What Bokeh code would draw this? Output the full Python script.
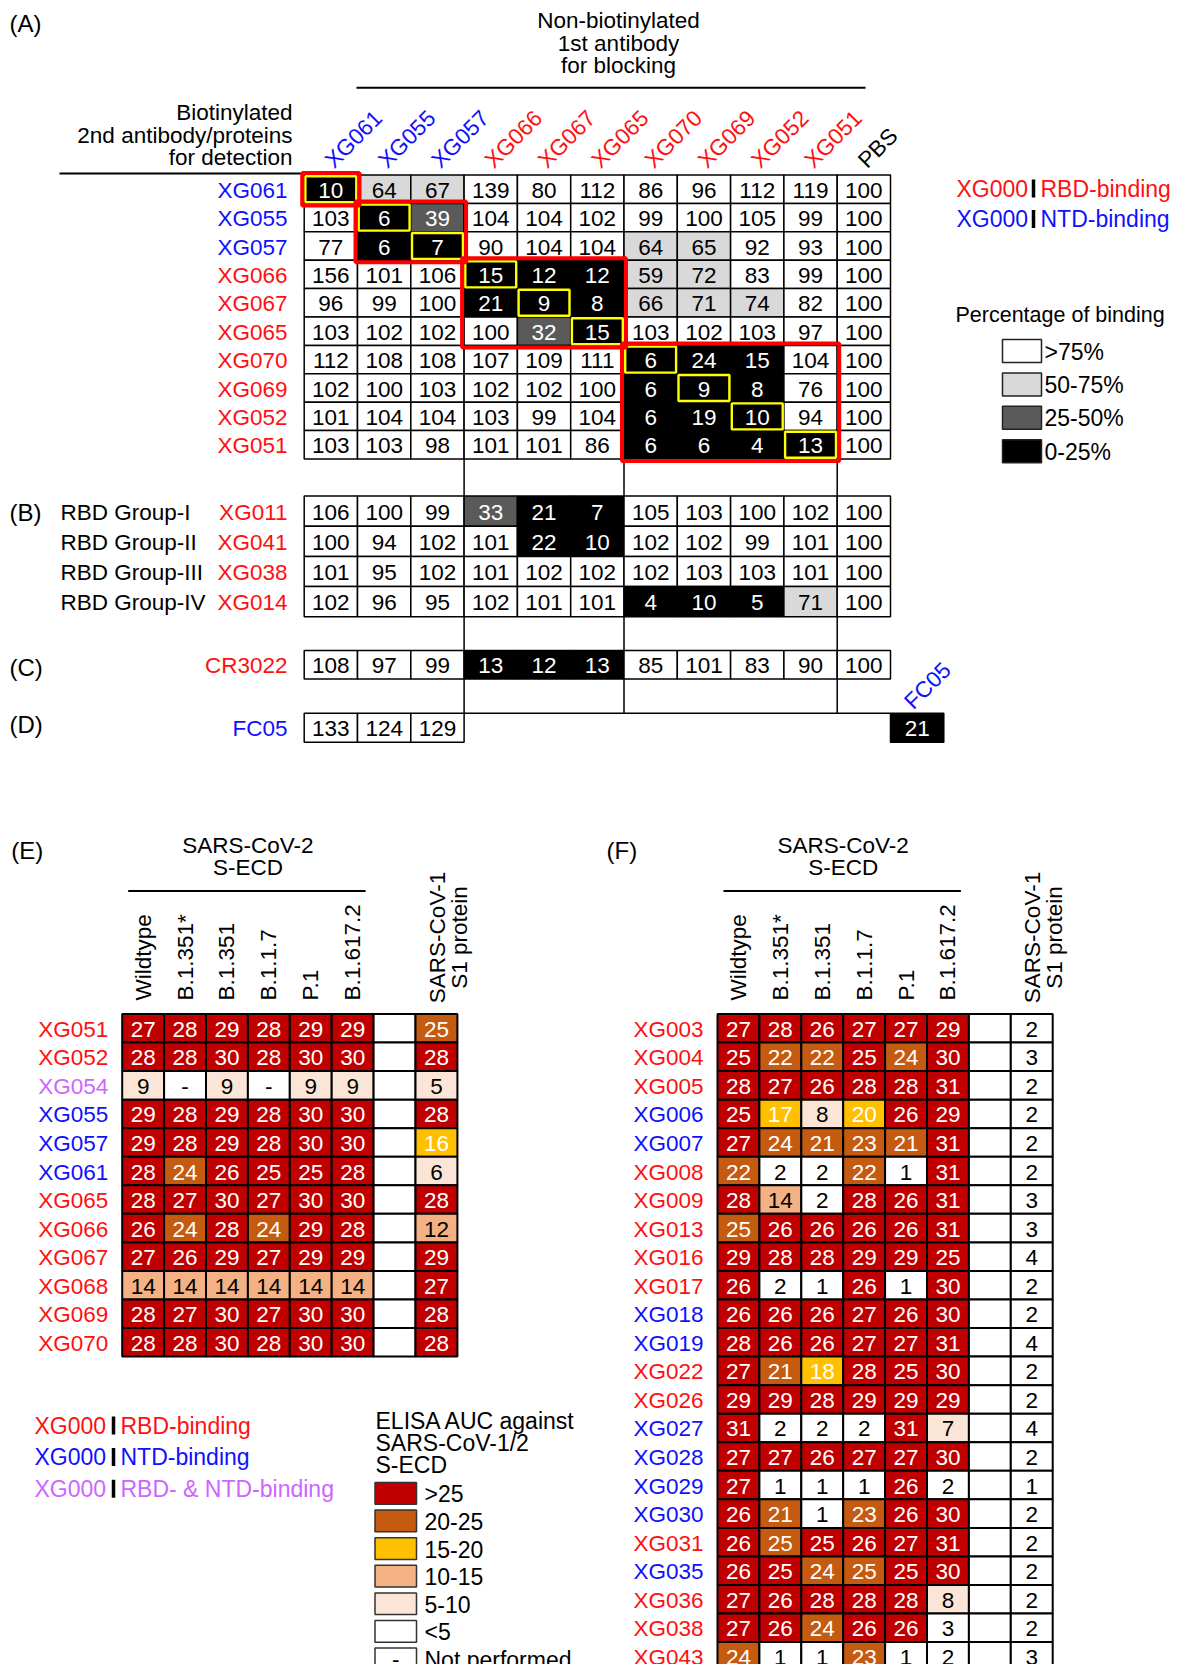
import math
from bokeh.plotting import figure
from bokeh.models import Range1d, ColumnDataSource
from bokeh.core.properties import value
from bokeh.embed import file_html
from bokeh.resources import INLINE

# ------------------------------------------------------------------ DATA
# Panel A: competition matrix (percentage of binding)
a_cols = ["XG061", "XG055", "XG057", "XG066", "XG067", "XG065", "XG070", "XG069", "XG052", "XG051", "PBS"]
a_col_kind = ["NTD", "NTD", "NTD", "RBD", "RBD", "RBD", "RBD", "RBD", "RBD", "RBD", "ctrl"]
a_rows = ["XG061", "XG055", "XG057", "XG066", "XG067", "XG065", "XG070", "XG069", "XG052", "XG051"]
a_row_kind = ["NTD", "NTD", "NTD", "RBD", "RBD", "RBD", "RBD", "RBD", "RBD", "RBD"]
a_values = [
    [10, 64, 67, 139, 80, 112, 86, 96, 112, 119, 100],
    [103, 6, 39, 104, 104, 102, 99, 100, 105, 99, 100],
    [77, 6, 7, 90, 104, 104, 64, 65, 92, 93, 100],
    [156, 101, 106, 15, 12, 12, 59, 72, 83, 99, 100],
    [96, 99, 100, 21, 9, 8, 66, 71, 74, 82, 100],
    [103, 102, 102, 100, 32, 15, 103, 102, 103, 97, 100],
    [112, 108, 108, 107, 109, 111, 6, 24, 15, 104, 100],
    [102, 100, 103, 102, 102, 100, 6, 9, 8, 76, 100],
    [101, 104, 104, 103, 99, 104, 6, 19, 10, 94, 100],
    [103, 103, 98, 101, 101, 86, 6, 6, 4, 13, 100],
]
a_cluster_sizes = [1, 2, 3, 4]          # epitope clusters along the diagonal

# Panel B: RBD group representatives
b_groups = ["RBD Group-I", "RBD Group-II", "RBD Group-III", "RBD Group-IV"]
b_rows = ["XG011", "XG041", "XG038", "XG014"]
b_values = [
    [106, 100, 99, 33, 21, 7, 105, 103, 100, 102, 100],
    [100, 94, 102, 101, 22, 10, 102, 102, 99, 101, 100],
    [101, 95, 102, 101, 102, 102, 102, 103, 103, 101, 100],
    [102, 96, 95, 102, 101, 101, 4, 10, 5, 71, 100],
]
# Panel C
c_row = "CR3022"
c_values = [108, 97, 99, 13, 12, 13, 85, 101, 83, 90, 100]
# Panel D
d_row = "FC05"
d_values = [133, 124, 129]
d_self_value = 21

pct_bins = [">75%", "50-75%", "25-50%", "0-25%"]

# Panel E / F: ELISA AUC
variants = ["Wildtype", "B.1.351*", "B.1.351", "B.1.1.7", "P.1", "B.1.617.2"]
s1_label = ["SARS-CoV-1", "S1 protein"]

e_rows = ["XG051", "XG052", "XG054", "XG055", "XG057", "XG061", "XG065", "XG066", "XG067", "XG068", "XG069", "XG070"]
e_row_kind = ["RBD", "RBD", "BOTH", "NTD", "NTD", "NTD", "RBD", "RBD", "RBD", "RBD", "RBD", "RBD"]
e_values = [
    [27, 28, 29, 28, 29, 29],
    [28, 28, 30, 28, 30, 30],
    [9, None, 9, None, 9, 9],
    [29, 28, 29, 28, 30, 30],
    [29, 28, 29, 28, 30, 30],
    [28, 24, 26, 25, 25, 28],
    [28, 27, 30, 27, 30, 30],
    [26, 24, 28, 24, 29, 28],
    [27, 26, 29, 27, 29, 29],
    [14, 14, 14, 14, 14, 14],
    [28, 27, 30, 27, 30, 30],
    [28, 28, 30, 28, 30, 30],
]
e_s1 = [25, 28, 5, 28, 16, 6, 28, 12, 29, 27, 28, 28]

f_rows = ["XG003", "XG004", "XG005", "XG006", "XG007", "XG008", "XG009", "XG013", "XG016", "XG017", "XG018", "XG019",
          "XG022", "XG026", "XG027", "XG028", "XG029", "XG030", "XG031", "XG035", "XG036", "XG038", "XG043"]
f_row_kind = ["RBD", "RBD", "RBD", "NTD", "NTD", "RBD", "RBD", "RBD", "RBD", "RBD", "NTD", "NTD",
              "RBD", "RBD", "NTD", "NTD", "NTD", "NTD", "RBD", "NTD", "RBD", "RBD", "RBD"]
f_values = [
    [27, 28, 26, 27, 27, 29],
    [25, 22, 22, 25, 24, 30],
    [28, 27, 26, 28, 28, 31],
    [25, 17, 8, 20, 26, 29],
    [27, 24, 21, 23, 21, 31],
    [22, 2, 2, 22, 1, 31],
    [28, 14, 2, 28, 26, 31],
    [25, 26, 26, 26, 26, 31],
    [29, 28, 28, 29, 29, 25],
    [26, 2, 1, 26, 1, 30],
    [26, 26, 26, 27, 26, 30],
    [28, 26, 26, 27, 27, 31],
    [27, 21, 18, 28, 25, 30],
    [29, 29, 28, 29, 29, 29],
    [31, 2, 2, 2, 31, 7],
    [27, 27, 26, 27, 27, 30],
    [27, 1, 1, 1, 26, 2],
    [26, 21, 1, 23, 26, 30],
    [26, 25, 25, 26, 27, 31],
    [26, 25, 24, 25, 25, 30],
    [27, 26, 28, 28, 28, 8],
    [27, 26, 24, 26, 26, 3],
    [24, 1, 1, 23, 1, 2],
]
f_s1 = [2, 3, 2, 2, 2, 2, 3, 3, 4, 2, 2, 4, 2, 2, 4, 2, 1, 2, 2, 2, 2, 2, 3]

# cells whose value rounds to 25 but lies in the 20-25 class (row, column index; 7 = S1)
e_below25 = [("XG051", 7)]
f_below25 = [("XG013", 0), ("XG031", 1), ("XG035", 3)]

auc_bins = [">25", "20-25", "15-20", "10-15", "5-10", "<5", "-"]
auc_bin_text = [">25", "20-25", "15-20", "10-15", "5-10", "<5", "Not performed"]

# ------------------------------------------------------------------ STYLE
FONT = value("Liberation Sans")
KIND_COLOR = {"RBD": "#ff1010", "NTD": "#1010ff", "BOTH": "#cc66ff", "ctrl": "black"}
PCT_FILL = {">75%": "white", "50-75%": "#d9d9d9", "25-50%": "#5a5a5a", "0-25%": "black"}
PCT_TEXT = {">75%": "black", "50-75%": "black", "25-50%": "white", "0-25%": "white"}
AUC_FILL = {">25": "#c00000", "20-25": "#c55a11", "15-20": "#ffc000", "10-15": "#f4b183",
            "5-10": "#fbe5d6", "<5": "white", "-": "white"}
AUC_TEXT = {">25": "white", "20-25": "white", "15-20": "white", "10-15": "black",
            "5-10": "black", "<5": "black", "-": "black"}

W, H = 1180, 1664
FS = "22.5px"
LFS = "23px"

AX, AW, AY, AH = 303.7, 53.3, 174.5, 28.4
BY, BH = 495.5, 30.2
CY, CH = 650.0, 28.5
DY, DH = 712.7, 29.0
EX, EW, EY, EH = 121.7, 41.9, 1013.5, 28.55
FX, FY = 717.0, 1013.5


def pct_bin(v):
    if v < 25:
        return "0-25%"
    if v < 50:
        return "25-50%"
    if v <= 75:
        return "50-75%"
    return ">75%"


def auc_bin(v):
    if v is None:
        return "-"
    if v < 5:
        return "<5"
    if v < 10:
        return "5-10"
    if v < 15:
        return "10-15"
    if v <= 20:
        return "15-20"
    if v < 25:
        return "20-25"
    return ">25"


p = figure(width=W, height=H, x_range=Range1d(0, W), y_range=Range1d(H, 0),
           output_backend="svg", toolbar_location=None, min_border=0,
           x_axis_location=None, y_axis_location=None)
p.grid.visible = False
p.outline_line_color = None
p.background_fill_color = "white"
p.border_fill_color = "white"


def txt(x, y, s, color="black", size=FS, align="left", baseline="middle", angle=0.0):
    p.text(x=[x], y=[y], text=[s], text_color=color, text_font=FONT, text_font_size=size,
           text_align=align, text_baseline=baseline, angle=angle)


def cells(x0, y0, w, h, items, fills, tcolors, lw):
    L, R, T, B, F, tx, ty, tt, tc = [], [], [], [], [], [], [], [], []
    for (i, j, label, b) in items:
        L.append(x0 + j * w); R.append(x0 + (j + 1) * w)
        T.append(y0 + i * h); B.append(y0 + (i + 1) * h)
        F.append(fills[b])
        if label is not None:
            tx.append(x0 + (j + 0.5) * w); ty.append(y0 + (i + 0.5) * h + 1)
            tt.append(label); tc.append(tcolors[b])
    p.quad(left=L, right=R, top=T, bottom=B, fill_color=F, line_color="black", line_width=lw)
    src = ColumnDataSource(dict(x=tx, y=ty, t=tt, c=tc))
    p.text(x="x", y="y", text="t", text_color="c", source=src, text_font=FONT,
           text_font_size=FS, text_align="center", text_baseline="middle")


# ------------------------------------------------------------------ PANEL A
txt(9, 23, "(A)", size="24px")
for k, s in enumerate(["Non-biotinylated", "1st antibody", "for blocking"]):
    txt(618, 20 + k * 22.5, s, align="center")
p.segment(x0=[356], y0=[87.3], x1=[865], y1=[87.3], line_color="black", line_width=2)
for k, s in enumerate(["Biotinylated", "2nd antibody/proteins", "for detection"]):
    txt(292, 112 + k * 22.5, s, align="right")
p.segment(x0=[59], y0=[173], x1=[AX], y1=[173], line_color="black", line_width=2)

for j, (c, kd) in enumerate(zip(a_cols, a_col_kind)):
    txt(AX + (j + 0.5) * AW - 2, AY - 11, c, color=KIND_COLOR[kd], baseline="alphabetic", angle=math.pi / 4)
for i, (r, kd) in enumerate(zip(a_rows, a_row_kind)):
    txt(287, AY + (i + 0.5) * AH + 1, r, color=KIND_COLOR[kd], align="right")

# connector lines between panels A-D
for k in [3, 6, 10]:
    p.segment(x0=[AX + k * AW], y0=[AY + len(a_rows) * AH], x1=[AX + k * AW], y1=[DY],
              line_color="black", line_width=1.5)
p.segment(x0=[AX + 3 * AW], y0=[DY], x1=[AX + 11 * AW], y1=[DY], line_color="black", line_width=1.5)

cells(AX, AY, AW, AH,
      [(i, j, str(v), pct_bin(v)) for i, row in enumerate(a_values) for j, v in enumerate(row)],
      PCT_FILL, PCT_TEXT, 1.5)

# cluster outlines (red) and self-competition cells (yellow)
start = 0
yl, yr, yt, yb, rl, rr, rt, rb = [], [], [], [], [], [], [], []
for n in a_cluster_sizes:
    rl.append(AX + start * AW - 2); rr.append(AX + (start + n) * AW + 2)
    rt.append(AY + start * AH - 2); rb.append(AY + (start + n) * AH + 2)
    start += n
for d in range(len(a_rows)):
    yl.append(AX + d * AW + 1.2); yr.append(AX + (d + 1) * AW - 1.2)
    yt.append(AY + d * AH + 1.2); yb.append(AY + (d + 1) * AH - 1.2)
p.quad(left=yl, right=yr, top=yt, bottom=yb, fill_color=None, line_color="#ffff00", line_width=2.4)
p.quad(left=rl, right=rr, top=rt, bottom=rb, fill_color=None, line_color="#ff0000", line_width=4)

# legend A
for k, (kd, s) in enumerate([("RBD", "RBD-binding"), ("NTD", "NTD-binding")]):
    yy = 188 + k * 30.5
    txt(956, yy, "XG000", color=KIND_COLOR[kd], size=LFS)
    p.segment(x0=[1033], y0=[yy - 9], x1=[1033], y1=[yy + 9], line_color="black", line_width=3.5)
    txt(1040, yy, s, color=KIND_COLOR[kd], size=LFS)
txt(955, 314, "Percentage of binding", size="21.5px")
for k, b in enumerate(pct_bins):
    top = 339 + k * 33.4
    p.quad(left=[1002], right=[1041], top=[top], bottom=[top + 23], fill_color=PCT_FILL[b],
           line_color="#222222", line_width=1.5)
    txt(1044, top + 12, b, size=LFS)

# ------------------------------------------------------------------ PANEL B, C, D
txt(9, BY + 0.5 * BH + 1, "(B)", size="24px")
for i, (g, r) in enumerate(zip(b_groups, b_rows)):
    yy = BY + (i + 0.5) * BH + 1
    txt(60, yy, g)
    txt(287, yy, r, color=KIND_COLOR["RBD"], align="right")
cells(AX, BY, AW, BH,
      [(i, j, str(v), pct_bin(v)) for i, row in enumerate(b_values) for j, v in enumerate(row)],
      PCT_FILL, PCT_TEXT, 1.5)

txt(9, CY + 0.5 * CH + 3, "(C)", size="24px")
txt(287, CY + 0.5 * CH + 1, c_row, color=KIND_COLOR["RBD"], align="right")
cells(AX, CY, AW, CH, [(0, j, str(v), pct_bin(v)) for j, v in enumerate(c_values)],
      PCT_FILL, PCT_TEXT, 1.5)

txt(9, DY + 0.5 * DH - 3, "(D)", size="24px")
txt(287, DY + 0.5 * DH + 1, d_row, color=KIND_COLOR["NTD"], align="right")
cells(AX, DY, AW, DH, [(0, j, str(v), pct_bin(v)) for j, v in enumerate(d_values)]
      + [(0, len(a_cols), str(d_self_value), pct_bin(d_self_value))],
      PCT_FILL, PCT_TEXT, 1.5)
txt(AX + (len(a_cols) + 0.5) * AW - 9, DY - 8, d_row, color=KIND_COLOR["NTD"],
    baseline="alphabetic", angle=math.pi / 4)


# ------------------------------------------------------------------ PANELS E, F
def auc_panel(x0, y0, rows, kinds, vals, s1, below25, tag):
    txt(x0 - 111, 850, tag, size="24px")
    cx = x0 + 3 * EW
    txt(cx, 845, "SARS-CoV-2", align="center")
    txt(cx, 867, "S-ECD", align="center")
    p.segment(x0=[x0 + 6], y0=[890.5], x1=[x0 + 6 * EW - 8], y1=[890.5], line_color="black", line_width=2)
    for j, v in enumerate(variants):
        txt(x0 + (j + 0.5) * EW, 1000, v, align="left", angle=math.pi / 2)
    cy = 937
    txt(x0 + 7.5 * EW + 1, cy, s1_label[0], align="center", angle=math.pi / 2)
    txt(x0 + 7.5 * EW + 23, cy, s1_label[1], align="center", angle=math.pi / 2)
    items = []
    for i, (r, kd) in enumerate(zip(rows, kinds)):
        txt(x0 - 14, y0 + (i + 0.5) * EH + 1, r, color=KIND_COLOR[kd], align="right")
        full = vals[i] + [None, s1[i]]
        for j, v in enumerate(full):
            if j == 6:
                items.append((i, j, None, "<5"))
                continue
            b = auc_bin(v)
            if (r, j) in below25:
                b = "20-25"
            items.append((i, j, "-" if v is None else str(v), b))
    cells(x0, y0, EW, EH, items, AUC_FILL, AUC_TEXT, 2)


auc_panel(EX, EY, e_rows, e_row_kind, e_values, e_s1, e_below25, "(E)")
auc_panel(FX, FY, f_rows, f_row_kind, f_values, f_s1, f_below25, "(F)")

# legends E
for k, (kd, s) in enumerate([("RBD", "RBD-binding"), ("NTD", "NTD-binding"), ("BOTH", "RBD- & NTD-binding")]):
    yy = 1425 + k * 31.6
    txt(34, yy, "XG000", color=KIND_COLOR[kd], size=LFS)
    p.segment(x0=[113], y0=[yy - 9], x1=[113], y1=[yy + 9], line_color="black", line_width=3.5)
    txt(120, yy, s, color=KIND_COLOR[kd], size=LFS)
for k, s in enumerate(["ELISA AUC against", "SARS-CoV-1/2", "S-ECD"]):
    txt(375, 1420 + k * 22.3, s, size=LFS)
for k, (b, s) in enumerate(zip(auc_bins, auc_bin_text)):
    top = 1482 + k * 27.6
    p.quad(left=[374.5], right=[416], top=[top], bottom=[top + 21.7], fill_color=AUC_FILL[b],
           line_color="#333333", line_width=1.5)
    if b == "-":
        txt(395.2, top + 11, "-", align="center")
    txt(424, top + 11.5, s, size=LFS)

open("out.html", "w").write(file_html(p, INLINE))
